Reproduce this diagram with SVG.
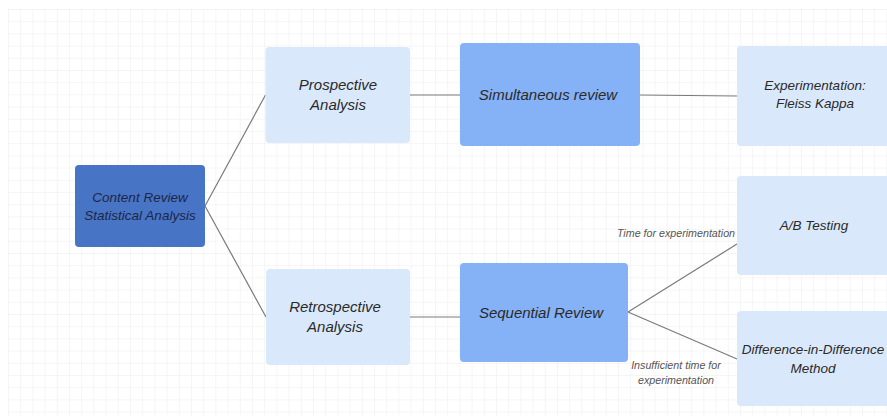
<svg xmlns="http://www.w3.org/2000/svg" width="887" height="419" viewBox="0 0 887 419">
<defs>
<pattern id="grid" x="8" y="9" width="12.2" height="12.2" patternUnits="userSpaceOnUse">
<path d="M0 0 H12.2 M0 0 V12.2" fill="none" stroke="#ececec" stroke-width="1"/>
</pattern>
<style>
.light{fill:#dae8fc;}
.mid{fill:#85b1f6;}
.dark{fill:#4874c6;}
.t{font-family:"Liberation Sans",Arial,sans-serif;font-style:italic;font-size:13.5px;fill:#2a2a2a;text-anchor:middle;}
.big{font-size:15px;}
.td{fill:#1c2745;}
.lbl{font-family:"Liberation Sans",Arial,sans-serif;font-style:italic;font-size:10.7px;fill:#555;text-anchor:middle;}
.c{stroke:#7a7a7a;stroke-width:1.2;fill:none;}
</style>
</defs>
<rect width="887" height="419" fill="#ffffff"/>
<rect x="8" y="9" width="879" height="406" fill="url(#grid)"/>
<g id="connectors">
<path class="c" d="M205 206 L265.5 95"/>
<path class="c" d="M205 206 L266 317"/>
<path class="c" d="M410 95 L460 95"/>
<path class="c" d="M640 95 L737 96"/>
<path class="c" d="M410 317 L460 317"/>
<path class="c" d="M628 312 L737 244"/>
<path class="c" d="M628 312 L737 359"/>
<text class="lbl" x="676" y="237">Time for experimentation</text>
<text class="lbl" x="676" y="369">Insufficient time for</text>
<text class="lbl" x="676" y="384">experimentation</text>
</g>
<g id="content-review">
<rect class="dark" x="75" y="165" width="130" height="82" rx="4"/>
<text class="t td" x="140" y="202">Content Review</text>
<text class="t td" x="140" y="220">Statistical Analysis</text>
</g>
<g id="prospective">
<rect class="light" x="265.5" y="47" width="144.5" height="96" rx="4"/>
<text class="t big" x="338" y="90">Prospective</text>
<text class="t big" x="338" y="110">Analysis</text>
</g>
<g id="simultaneous">
<rect class="mid" x="460" y="43" width="180" height="103" rx="4"/>
<text class="t big" x="548" y="100">Simultaneous review</text>
</g>
<g id="experimentation">
<rect class="light" x="737" y="46" width="155" height="100" rx="4"/>
<text class="t" x="815" y="90">Experimentation:</text>
<text class="t" x="815" y="108">Fleiss Kappa</text>
</g>
<g id="retrospective">
<rect class="light" x="266" y="269" width="144" height="96" rx="4"/>
<text class="t big" x="335" y="312">Retrospective</text>
<text class="t big" x="335" y="332">Analysis</text>
</g>
<g id="sequential">
<rect class="mid" x="460" y="263" width="168" height="99" rx="4"/>
<text class="t big" x="541" y="318">Sequential Review</text>
</g>
<g id="ab-testing">
<rect class="light" x="737" y="176" width="155" height="99" rx="4"/>
<text class="t" x="814" y="230">A/B Testing</text>
</g>
<g id="did">
<rect class="light" x="737" y="311" width="155" height="95" rx="4"/>
<text class="t" x="813" y="354">Difference-in-Difference</text>
<text class="t" x="813" y="373">Method</text>
</g>
</svg>
